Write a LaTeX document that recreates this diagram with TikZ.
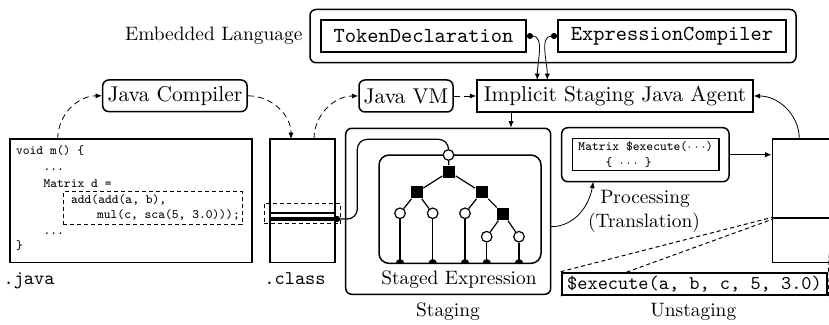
\documentclass[tikz,border=0pt]{standalone}
\usepackage{fontspec}
\usetikzlibrary{arrows.meta,calc}
\pgfdeclarelayer{background}
\pgfsetlayers{background,main}
\newcommand\mybigf{\fontsize{10.7}{12.8}\selectfont}
\newcommand\mysmf{\fontsize{9.7}{11.6}\selectfont}
\newcommand\mycodef{\fontsize{6.4}{8.3}\selectfont\ttfamily}
\begin{document}
\begin{tikzpicture}[x=0.5pt,y=-0.5pt,line width=0.6pt,
  >={Latex[length=3.2pt,width=2.6pt]},
  rbox/.style={draw,line width=0.75pt,rounded corners=3pt,inner sep=0pt},
  sbox/.style={draw,line width=0.75pt,inner sep=0pt},
  tbox/.style={draw,line width=1pt,inner sep=0pt},
  lab/.style={font=\mysmf,inner sep=0pt},
  code/.style={font=\mycodef,inner sep=0pt,anchor=base west},
  darr/.style={->,dash pattern=on 3pt off 2pt},
  conn/.style={->},
  hilite/.style={draw,line width=0.5pt,dash pattern=on 2pt off 1.5pt,inner sep=0pt},
  sq/.style={fill,minimum size=6pt,inner sep=0pt},
  circ/.style={draw,fill=white,circle,minimum size=5.3pt,inner sep=0pt}]
\useasboundingbox (0,0) rectangle (829,325);
\clip (0,0) rectangle (829,325);

% Embedded language
\node[rbox,minimum width=243pt,minimum height=26.6pt] (emb) at (553,36.1) {};
\node[tbox,minimum width=102.5pt,minimum height=16pt,font=\mybigf\ttfamily] (tok) at (423.5,36) {TokenDeclaration};
\node[tbox,minimum width=114pt,minimum height=16pt,font=\mybigf\ttfamily] (exc) at (672,36) {ExpressionCompiler};
\node[lab,anchor=east] (emblab) at (303,36) {Embedded Language};

% second row
\node[rbox,minimum width=72.2pt,minimum height=15.8pt,font=\mybigf] (jc) at (174.9,95.8) {Java Compiler};
\node[rbox,minimum width=47pt,minimum height=16pt,font=\mybigf] (jvm) at (406,96) {Java VM};
\node[sbox,minimum width=138pt,minimum height=16pt,font=\mybigf] (agent) at (615,96) {Implicit Staging Java Agent};

% java source
\node[sbox,minimum width=121pt,minimum height=61.85pt] (src) at (131,200.9) {};
\node[code] (l1) at (15.5,155) {void m() \{};
\node[code] (l2) at (43,170.5) {...};
\node[code] (l3) at (43,187.5) {Matrix d =};
\node[hilite,minimum width=89.5pt,minimum height=16.5pt] (hl) at (152.5,208.5) {};
\node[code] (l4) at (70.5,203.3) {add(add(a, b),};
\node[code] (l5) at (96.5,219) {mul(c, sca(5, 3.0)));};
\node[code] (l6) at (43,234.5) {...};
\node[code] (l7) at (15.5,250) {\}};
\node[lab,font=\mysmf\ttfamily,anchor=base west] (javalab) at (3,285) {.java};

% class file
\node[sbox,minimum width=32.5pt,minimum height=61.85pt] (cls) at (302.5,200.9) {};
\draw[line width=1pt] (270,213.3) -- (335,213.3);
\coordinate (cdot) at (337,219);
\draw[line width=2.2pt] (270,219) -- (cdot);
\fill (cdot) circle (1.6pt);
\node[hilite,minimum width=38.35pt,minimum height=10.35pt] (clhl) at (302.35,213.65) {};
\node[lab,font=\mysmf\ttfamily,anchor=base] (clslab) at (295,285) {.class};

% staging
\node[rbox,minimum width=102.5pt,minimum height=83pt] (stg) at (448.2,211.3) {};
\node[draw,line width=0.75pt,rounded corners=5pt,inner sep=0pt,minimum width=81pt,minimum height=54.15pt] (tree) at (460,209.2) {};
\node[lab,anchor=base] (sexlab) at (459,285) {Staged Expression};
\node[lab,anchor=base] (stglab) at (448,317) {Staging};

% tree
\node[circ] (root) at (448.5,155) {};
\node[sq] (s1) at (449,171.7) {};
\node[sq] (sL) at (416.7,192.3) {};
\node[sq] (sR) at (481.7,192.3) {};
\node[sq] (sRR) at (503.3,214) {};
\node[circ] (cLL) at (400,213.3) {};
\node[circ] (cLR) at (432.7,213.3) {};
\node[circ] (cRL) at (465,213.3) {};
\node[circ] (cRRL) at (486.7,236.7) {};
\node[circ] (cRRR) at (519,236.7) {};
\foreach \n/\x in {fLL/400,fLR/432.7,fRL/465,fRRL/486.7,fRRR/519}{
  \coordinate (\n) at (\x,263.3);
  \fill (\n) ++(-2.1pt,0) arc[start angle=180,end angle=0,radius=2.1pt] -- cycle;
}
\draw (root) -- (s1);
\draw (s1) -- (sL);
\draw (s1) -- (sR);
\draw (sL) -- (cLL);
\draw (sL) -- (cLR);
\draw (sR) -- (cRL);
\draw (sR) -- (sRR);
\draw (sRR) -- (cRRL);
\draw (sRR) -- (cRRR);
\draw (cLL) -- (fLL);
\draw (cLR) -- (fLR);
\draw (cRL) -- (fRL);
\draw (cRRL) -- (fRRL);
\draw (cRRR) -- (fRRR);

% class -> tree root
\draw[rounded corners=5pt] (cdot) -- (357.3,219) -- (357.3,139.3) -- (448.5,139.3) -- (root.north);

% processing
\node[rbox,minimum width=83.65pt,minimum height=27pt] (proc) at (645.35,154.7) {};
\node[sbox,minimum width=73.35pt,minimum height=16.2pt,align=left,font=\mycodef] (pin) at (645.65,154.5)
  {Matrix \$execute($\cdots$)\\\phantom{xxxx}\{ $\cdots$ \}};
\node[lab,anchor=base] (plab1) at (645,203.3) {Processing};
\node[lab,anchor=base] (plab2) at (644,227.3) {(Translation)};

% right box
\node[sbox,minimum width=31.35pt,minimum height=61.85pt] (rb) at (803.65,200.85) {};
\coordinate (rlA) at (772.3,217.3);
\coordinate (rlB) at (772.3,219.3);
\coordinate (rrA) at (831.5,217.3);
\coordinate (rrB) at (831.5,219.3);
\draw[line width=1pt] (772.3,218.3) -- (840,218.3);

% unstaging
\node[tbox,fill=white,minimum width=132.8pt,minimum height=11.15pt,font=\mysmf\ttfamily] (exe) at (694.5,283.85) {\$execute(a, b, c, 5, 3.0)};
\begin{pgfonlayer}{background}
\draw[dash pattern=on 2pt off 1.5pt,line width=0.5pt] (exe.north west) -- (rlA);
\draw[dash pattern=on 2pt off 1.5pt,line width=0.5pt] (exe.south west) -- (rlB);
\draw[dash pattern=on 2pt off 1.5pt,line width=0.5pt] (exe.north east) -- (rrA);
\draw[dash pattern=on 2pt off 1.5pt,line width=0.5pt] (exe.south east) -- (rrB);
\end{pgfonlayer}
\node[lab,anchor=base] (unlab) at (693.3,317) {Unstaging};

% connectors
\coordinate (srcT) at (57.7,139);
\coordinate (clsT1) at (291,139);
\coordinate (clsT2) at (314,139);
\draw[darr] (srcT) to[out=90,in=180] (jc.west);
\draw[darr] (jc.east) to[out=0,in=90] (clsT1);
\draw[darr] (clsT2) to[out=90,in=180] (jvm.west);
\draw[darr] (jvm.east) -- (agent.west);

\coordinate (agT1) at (537.3,80);
\coordinate (agT2) at (547.3,80);
\draw[{Circle[length=3pt]}->] (tok.east) to[out=0,in=90] (agT1);
\draw[{Circle[length=3pt]}->] (exc.west) to[out=180,in=90] (agT2);

\coordinate (agS) at (511,112);
\draw[conn] (agS) -- (agS |- stg.north);

\coordinate (stgE) at (550.7,226.7);
\coordinate (procS) at (593.3,181.7);
\draw[conn] (stgE) to[out=0,in=-100] (procS);
\draw[conn] (proc.east) -- (rb.west |- proc.east);
\coordinate (rbT) at (799.3,139);
\draw[conn] (rbT) to[out=90,in=0] (agent.east);
\end{tikzpicture}
\end{document}
